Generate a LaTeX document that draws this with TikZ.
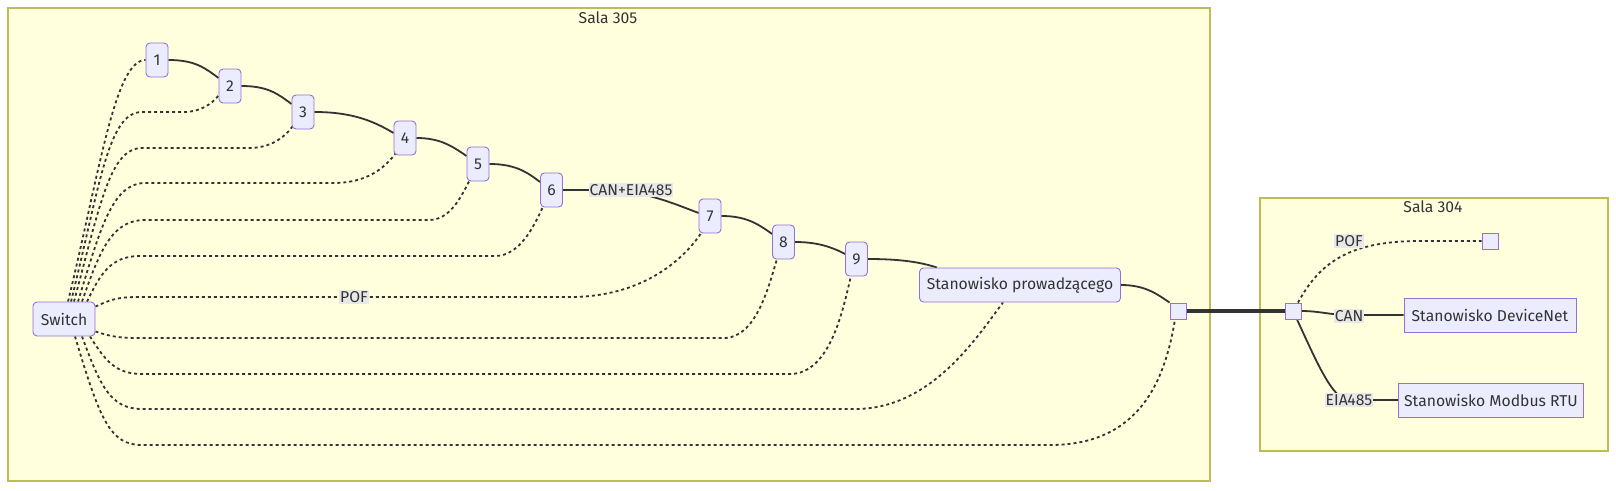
\documentclass[tikz,border=0pt]{standalone}
\usepackage{fontspec}
\setmainfont{Fira Sans}
\definecolor{clf}{HTML}{FFFFDE}
\definecolor{clb}{HTML}{BDBD55}
\definecolor{ndf}{HTML}{ECECFF}
\definecolor{ndb}{HTML}{9370DB}
\definecolor{ln}{HTML}{333333}
\definecolor{lblbg}{HTML}{E8E8E8}
\definecolor{txt}{HTML}{333333}
\pgfdeclarelayer{bg}\pgfdeclarelayer{edges}
\pgfsetlayers{bg,edges,main}
\begin{document}
\begin{tikzpicture}[x=1pt,y=-1pt,
 every node/.style={font=\fontsize{15.7}{18}\selectfont, text=txt},
 nd/.style={draw=ndb, fill=ndf, line width=0.9pt, rounded corners=4pt, minimum width=22pt, minimum height=34pt, inner sep=0pt},
 box/.style={draw=ndb, fill=ndf, line width=0.9pt, minimum height=34pt, inner sep=0pt},
 junc/.style={draw=ndb, fill=ndf, line width=0.9pt, minimum size=16pt, inner sep=0pt},
 lbl/.style={fill=lblbg, inner xsep=1pt, inner ysep=1.5pt},
 sol/.style={draw=ln, line width=1.8pt},
 dot/.style={draw=ln, line width=1.8pt, dash pattern=on 3pt off 3pt},
 cl/.style={draw=clb, fill=clf, line width=1.2pt}]
\useasboundingbox (0,0) rectangle (1616,490);
% nodes
\node[nd] (n1) at (157,60) {1};
\node[nd] (n2) at (230,86) {2};
\node[nd] (n3) at (303,112) {3};
\node[nd] (n4) at (405,138) {4};
\node[nd] (n5) at (478,164) {5};
\node[nd] (n6) at (551.5,190) {6};
\node[nd] (n7) at (710,216) {7};
\node[nd] (n8) at (783.5,242) {8};
\node[nd] (n9) at (856.5,259) {9};
\node[nd, minimum width=201pt] (sp) at (1020,285) {Stanowisko prowadzącego};
\node[nd, minimum width=62pt] (sw) at (64,319) {Switch};
\node[junc] (j5) at (1178,311) {};
\node[junc] (j4) at (1293,311) {};
\node[junc] (pof) at (1490,241) {};
\node[box, minimum width=172pt] (dn) at (1490,315) {Stanowisko DeviceNet};
\node[box, minimum width=185pt] (mb) at (1491,400) {Stanowisko Modbus RTU};
\node (t305) at (608,18) {Sala 305};
\node (t304) at (1433,207) {Sala 304};
% clusters
\begin{pgfonlayer}{bg}
\draw[cl] (8,8) rectangle (1210,481);
\draw[cl] (1260,198) rectangle (1608,451);
\end{pgfonlayer}
% edges
\begin{pgfonlayer}{edges}
\draw[sol] (n1.east) .. controls (195,60) and (205,68) .. ([yshift=8pt]n2.west);
\draw[sol] (n2.east) .. controls (268,86) and (278,94) .. ([yshift=8pt]n3.west);
\draw[sol] (n3.east) .. controls (350,112) and (372,120) .. ([yshift=5pt]n4.west);
\draw[sol] (n4.east) .. controls (440,138) and (452,146) .. ([yshift=8pt]n5.west);
\draw[sol] (n5.east) .. controls (515,164) and (527,172) .. ([yshift=8pt]n6.west);
\draw[sol] (n6.east) -- (600,190) .. controls (640,190) and (665,200) .. ([yshift=3pt]n7.west);
\draw[sol] (n7.east) .. controls (745,216) and (757,223) .. ([yshift=8pt]n8.west);
\draw[sol] (n8.east) .. controls (815,242) and (830,246) .. ([yshift=5pt]n9.west);
\draw[sol] (n9.east) .. controls (900,259) and (920,262) .. ([xshift=-83pt]sp.north);
\draw[sol] (sp.east) .. controls (1145,285) and (1157,294) .. (j5.north west);
\draw[ln, line width=3.5pt] (j5.east) -- (j4.west);
% Sala 304
\draw[dot] ([xshift=5pt]j4.north) .. controls (1320,262) and (1350,241) .. (1420,241) -- (pof.west);
\draw[sol] (j4.east) .. controls (1320,311) and (1330,315) .. (1349,315) -- (dn.west);
\draw[sol] ([xshift=4pt]j4.south) .. controls (1318,365) and (1333,400) .. (1349,400) -- (mb.west);
% switch dotted
\draw[dot] ([xshift=4pt]sw.north) .. controls (100,170) and (115,60) .. (n1.west);
\draw[dot] ([xshift=7pt]sw.north) .. controls (100,185) and (108,112) .. (142,112) -- (184,112) .. controls (200,112) and (212,104) .. ([yshift=8pt]n2.south west);
\draw[dot] ([xshift=10pt]sw.north) .. controls (100,205) and (110,148) .. (142,148) -- (249,148) .. controls (270,148) and (284,138) .. ([xshift=1pt,yshift=3pt]n3.south west);
\draw[dot] ([xshift=14pt]sw.north) .. controls (100,230) and (112,183) .. (145,183) -- (333,183) .. controls (365,183) and (383,170) .. ([xshift=2pt,yshift=2pt]n4.south west);
\draw[dot] ([xshift=18pt]sw.north) .. controls (100,250) and (112,220) .. (145,220) -- (429,220) .. controls (450,220) and (461,197) .. ([xshift=3pt,yshift=1pt]n5.south west);
\draw[dot] ([xshift=23pt]sw.north) .. controls (100,275) and (110,256) .. (140,256) -- (495,256) .. controls (520,256) and (534,226) .. ([xshift=3pt,yshift=1pt]n6.south west);
\draw[dot] ([yshift=-5pt]sw.north east) .. controls (112,299) and (118,297) .. (140,297) -- (570,297) .. controls (640,297) and (682,262) .. ([xshift=3pt,yshift=1pt]n7.south west);
\draw[dot] ([yshift=5pt]sw.south east) .. controls (112,337) and (120,338) .. (140,338) -- (724,338) .. controls (755,338) and (768,290) .. ([xshift=5pt,yshift=1pt]n8.south west);
\draw[dot] ([xshift=26pt]sw.south) .. controls (105,360) and (115,374) .. (142,374) -- (790,374) .. controls (830,374) and (843,310) .. ([xshift=6pt,yshift=1pt]n9.south west);
\draw[dot] ([xshift=18pt]sw.south) .. controls (100,385) and (110,409) .. (142,409) -- (855,409) .. controls (930,409) and (975,340) .. ([xshift=-17pt]sp.south);
\draw[dot] ([xshift=11pt]sw.south) .. controls (100,420) and (110,445) .. (142,445) -- (1050,445) .. controls (1140,445) and (1165,380) .. ([xshift=-3pt]j5.south);
\end{pgfonlayer}
% labels
\node[lbl] (lce) at (631,190) {CAN+EIA485};
\node[lbl] (lpof) at (354,297) {POF};
\node[lbl] (lpof2) at (1349,241) {POF};
\node[lbl] (lcan) at (1349,316) {CAN};
\node[lbl] (leia) at (1349,400) {EIA485};
\end{tikzpicture}
\end{document}
